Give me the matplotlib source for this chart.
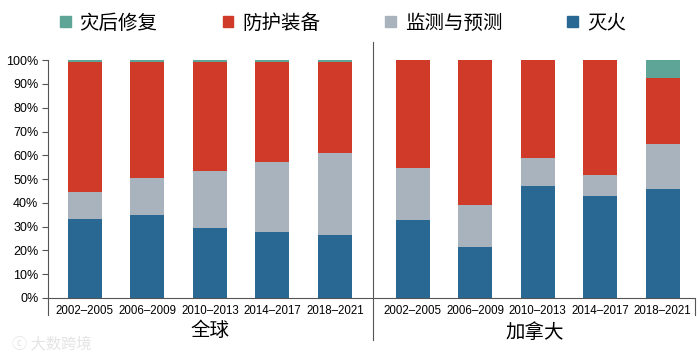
import numpy as np
import matplotlib.pyplot as plt
from matplotlib.lines import Line2D
from matplotlib.patches import Patch
from matplotlib import font_manager

plt.rcParams['font.family'] = ['Noto Sans CJK SC', 'DejaVu Sans']

names = [f.name for f in font_manager.fontManager.ttflist]
narrow = 'Liberation Sans Narrow' if 'Liberation Sans Narrow' in names else 'Liberation Sans'
tick_size = 10 if narrow == 'Liberation Sans Narrow' else 8.3

periods = ["2002–2005", "2006–2009", "2010–2013", "2014–2017", "2018–2021"]
regions = ["全球", "加拿大"]
series = ["灾后修复", "防护装备", "监测与预测", "灭火"]

# 全球
global_fire = [33.0, 35.0, 29.5, 27.6, 26.6]
global_monitor = [11.5, 15.5, 23.9, 29.6, 34.4]
global_protect = [54.8, 48.8, 45.9, 42.1, 38.3]
global_recover = [0.7, 0.7, 0.7, 0.7, 0.7]

# 加拿大
canada_fire = [32.7, 21.5, 47.1, 42.9, 45.9]
canada_monitor = [22.1, 17.7, 11.8, 8.8, 19.0]
canada_protect = [45.2, 60.8, 41.1, 48.3, 27.4]
canada_recover = [0.0, 0.0, 0.0, 0.0, 7.7]

colors = {"灭火": "#286893", "监测与预测": "#a9b3bd",
          "防护装备": "#d03a28", "灾后修复": "#5fa597"}

fire = np.array(global_fire + canada_fire)
monitor = np.array(global_monitor + canada_monitor)
protect = np.array(global_protect + canada_protect)
recover = np.array(global_recover + canada_recover)

x = np.concatenate([np.arange(5), np.arange(5) + 5.25])
w = 0.54

fig = plt.figure(figsize=(7, 3.56), dpi=100)
ax = fig.add_axes([0.0686, 0.163, 0.9228, 0.668])

ax.bar(x, fire, w, color=colors["灭火"])
ax.bar(x, monitor, w, bottom=fire, color=colors["监测与预测"])
ax.bar(x, protect, w, bottom=fire + monitor, color=colors["防护装备"])
ax.bar(x, recover, w, bottom=fire + monitor + protect, color=colors["灾后修复"])

ax.set_xlim(-0.59, 9.75)
ax.set_ylim(0, 100)
ax.set_yticks(np.arange(0, 101, 10))
ax.set_yticklabels([f"{v}%" for v in range(0, 101, 10)], family='Liberation Sans', fontsize=9)
ax.set_xticks(x)
ax.set_xticklabels(periods * 2, family=narrow, fontsize=tick_size)
ax.tick_params(axis='x', length=0, pad=5)
ax.tick_params(axis='y', length=4, width=0.8, color='#555555', pad=3)
for s in ['top', 'right']:
    ax.spines[s].set_visible(False)
for s in ['left', 'bottom']:
    ax.spines[s].set_color('#555555')
    ax.spines[s].set_linewidth(0.8)

def fy(py):
    return 1 - py / 356

def fx(px):
    return px / 700

lc = '#555555'
fig.add_artist(Line2D([fx(48), fx(48)], [fy(298), fy(315)], color=lc, lw=0.8))
fig.add_artist(Line2D([fx(694.5), fx(694.5)], [fy(298), fy(315)], color=lc, lw=0.8))
fig.add_artist(Line2D([fx(373), fx(373)], [fy(42), fy(340)], color=lc, lw=0.8))

fig.text(fx(210), fy(330), regions[0], ha='center', va='center', fontsize=14)
fig.text(fx(535), fy(333), regions[1], ha='center', va='center', fontsize=14)

fig.text(fx(12), fy(344), "ⓒ 大数跨境", ha='left', va='center', fontsize=11, color='#e4e4e4')

handles = [Patch(color=colors[s]) for s in series]
fig.legend(handles, series, loc='center', bbox_to_anchor=(0.49, fy(23)), ncol=4,
           frameon=False, fontsize=14, handlelength=0.55, handleheight=0.55,
           handletextpad=0.45, columnspacing=3.35)

fig.savefig("out.png", dpi=100)
